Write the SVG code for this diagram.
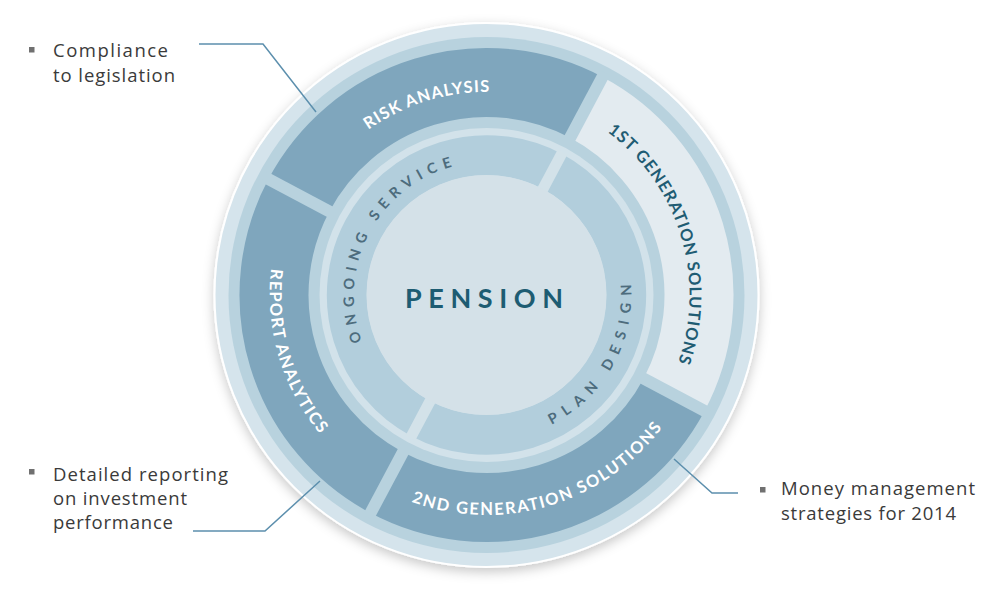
<svg xmlns="http://www.w3.org/2000/svg" width="990" height="602" viewBox="0 0 990 602">
<defs>
  <filter id="shadow" x="-15%" y="-15%" width="130%" height="135%">
    <feDropShadow dx="0" dy="4" stdDeviation="6" flood-color="#000" flood-opacity="0.22"/>
  </filter>
  <path id="p-risk" d="M290.89,356.30 A205,205 0 0 1 682.11,233.70"/>
  <path id="p-1st" d="M426.82,100.97 A203,203 0 0 1 546.18,489.03"/>
  <path id="p-2nd" d="M275.5,357.3 A220,220 0 0 0 697.5,232.7"/>
  <path id="p-report" d="M424.96,85.87 A218,218 0 0 0 548.04,504.13"/>
  <path id="p-ongoing" d="M425.05,414.07 A134,134 0 0 1 547.95,175.93"/>
  <path id="p-plan" d="M414.88,421.08 A145,145 0 0 0 558.12,168.92"/>
</defs>
<style>
  .seg { fill:none; stroke-width:69; }
  .dark { stroke:#7fa6bd; }
  .light { stroke:#e3ebf0; }
  .inner { fill:none; stroke:#b2cedc; stroke-width:40; }
  .gap { stroke:#b8d2de; stroke-width:12; }
  .igap { stroke:#d3e2e9; stroke-width:11; }
  .ring { font-family:Lato,"Liberation Sans",sans-serif; font-size:16.5px; font-weight:bold; }
  .w { fill:#ffffff; }
  .t { fill:#1f5c73; }
  .sub { font-family:Lato,"Liberation Sans",sans-serif; font-size:14.5px; font-weight:bold; fill:#4d6c7d; }
  .call { font-family:"Open Sans","Liberation Sans",sans-serif; font-size:18.5px; fill:#3a3a3a; }
  .bullet { fill:#707070; }
  .conn { fill:none; stroke:#5c8fad; stroke-width:1.5; }
</style>
<rect width="990" height="602" fill="#ffffff"/>

<g id="wheel-base">
  <circle cx="486.5" cy="295" r="272" fill="#d5e4ec" stroke="#ffffff" stroke-width="2" filter="url(#shadow)"/>
  <circle cx="486.5" cy="295" r="258" fill="#b8d2de"/>
  <circle cx="486.5" cy="295" r="167" fill="#d2e2ea"/>
</g>

<g id="seg-risk-analysis">
  <path class="seg dark" d="M298.88,195.23 A212.5,212.5 0 0 1 586.27,107.38"/>
  <text class="ring w"><textPath href="#p-risk" startOffset="50%" text-anchor="middle" textLength="129" lengthAdjust="spacing">RISK ANALYSIS</textPath></text>
</g>
<g id="seg-1st-generation">
  <path class="seg light" d="M586.27,107.38 A212.5,212.5 0 0 1 674.12,394.77"/>
  <text class="ring t"><textPath href="#p-1st" startOffset="50%" text-anchor="middle" textLength="258" lengthAdjust="spacing">1ST GENERATION SOLUTIONS</textPath></text>
</g>
<g id="seg-2nd-generation">
  <path class="seg dark" d="M674.12,394.77 A212.5,212.5 0 0 1 386.73,482.62"/>
  <text class="ring w"><textPath href="#p-2nd" startOffset="50%" text-anchor="middle" textLength="280" lengthAdjust="spacing">2ND GENERATION SOLUTIONS</textPath></text>
</g>
<g id="seg-report-analytics">
  <path class="seg dark" d="M386.73,482.62 A212.5,212.5 0 0 1 298.88,195.23"/>
  <text class="ring w"><textPath href="#p-report" startOffset="50%" text-anchor="middle" textLength="177" lengthAdjust="spacing">REPORT ANALYTICS</textPath></text>
</g>

<g id="gaps">
  <line class="gap" x1="567.25" y1="143.14" x2="604.81" y2="72.51"/>
  <line class="gap" x1="638.36" y1="375.75" x2="708.99" y2="413.31"/>
  <line class="gap" x1="405.75" y1="446.86" x2="368.19" y2="517.49"/>
  <line class="gap" x1="334.64" y1="214.25" x2="264.01" y2="176.69"/>
</g>

<g id="seg-ongoing-service">
  <path class="inner" d="M420.77,418.61 A140,140 0 0 1 552.23,171.39"/>
</g>
<g id="seg-plan-design">
  <path class="inner" d="M552.23,171.39 A140,140 0 0 1 420.77,418.61"/>
</g>
<g id="inner-gaps">
  <line class="igap" x1="541.9" y1="190.82" x2="562.56" y2="151.97"/>
  <line class="igap" x1="431.1" y1="399.18" x2="410.44" y2="438.03"/>
</g>

<g id="pension">
  <circle cx="486.5" cy="295" r="120" fill="#d4e1e8"/>
  <text x="484" y="308" text-anchor="middle" textLength="158" lengthAdjust="spacing" font-family="Lato,'Liberation Sans',sans-serif" font-size="27" font-weight="bold" fill="#1d5c72">PENSION</text>
</g>
<g id="label-ongoing">
  <text class="sub"><textPath href="#p-ongoing" startOffset="50%" text-anchor="middle" textLength="221" lengthAdjust="spacing">ONGOING SERVICE</textPath></text>
</g>
<g id="label-plan">
  <text class="sub"><textPath href="#p-plan" startOffset="50%" text-anchor="middle" textLength="171" lengthAdjust="spacing">PLAN DESIGN</textPath></text>
</g>

<g id="connectors">
  <polyline class="conn" points="199,44 263,44 316,112"/>
  <polyline class="conn" points="193,531 265,531 320,481"/>
  <polyline class="conn" points="738,493 712,493 674,459"/>
</g>

<g id="callout-compliance">
  <rect class="bullet" x="29" y="47" width="5.5" height="5.5"/>
  <text class="call" x="53" y="57" textLength="115" lengthAdjust="spacing">Compliance</text>
  <text class="call" x="53" y="82" textLength="122" lengthAdjust="spacing">to legislation</text>
</g>
<g id="callout-reporting">
  <rect class="bullet" x="29" y="469" width="5.5" height="5.5"/>
  <text class="call" x="53" y="481" textLength="175" lengthAdjust="spacing">Detailed reporting</text>
  <text class="call" x="53" y="505" textLength="134" lengthAdjust="spacing">on investment</text>
  <text class="call" x="53" y="529" textLength="120" lengthAdjust="spacing">performance</text>
</g>
<g id="callout-money">
  <rect class="bullet" x="760" y="487" width="5.5" height="5.5"/>
  <text class="call" x="781" y="495" textLength="194" lengthAdjust="spacing">Money management</text>
  <text class="call" x="781" y="520" textLength="175" lengthAdjust="spacing">strategies for 2014</text>
</g>
</svg>
